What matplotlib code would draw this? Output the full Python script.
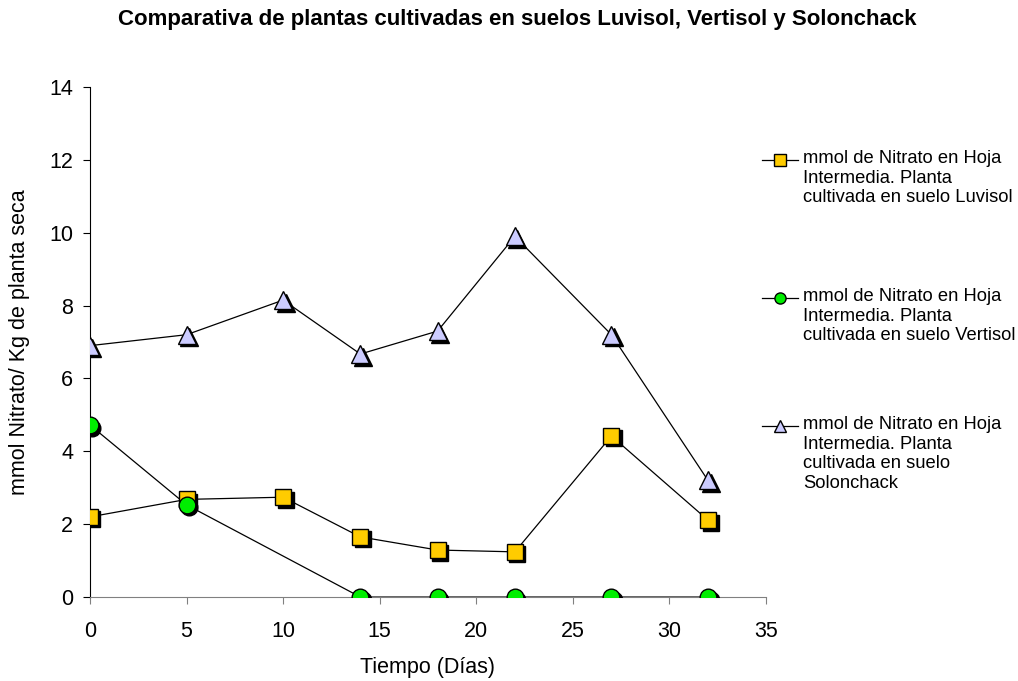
import matplotlib
matplotlib.use("Agg")
import matplotlib.pyplot as plt
from matplotlib.lines import Line2D
from matplotlib.transforms import offset_copy

plt.rcParams['font.family'] = ['Liberation Sans', 'DejaVu Sans']

dias = [0, 5, 10, 14, 18, 22, 27, 32]
luvisol = [2.2, 2.68, 2.74, 1.65, 1.29, 1.24, 4.42, 2.11]
dias_vertisol = [0, 5, 14, 18, 22, 27, 32]  # sin dato en el dia 10
vertisol = [4.72, 2.53, 0, 0, 0, 0, 0]
solonchack = [6.9, 7.2, 8.15, 6.67, 7.3, 9.9, 7.2, 3.2]

etiquetas = [
    "mmol de Nitrato en Hoja\nIntermedia. Planta\ncultivada en suelo Luvisol",
    "mmol de Nitrato en Hoja\nIntermedia. Planta\ncultivada en suelo Vertisol",
    "mmol de Nitrato en Hoja\nIntermedia. Planta\ncultivada en suelo\nSolonchack",
]

fig = plt.figure(figsize=(10.18, 6.81), dpi=100)
ax = fig.add_axes([0.0884, 0.1233, 0.664, 0.749])

# sombra negra desplazada de los marcadores (estilo Excel)
sombra = offset_copy(ax.transData, fig=fig, x=2.5, y=-2.5, units='dots')

series = [
    (dias, luvisol, 's', '#FFCC00', 11),
    (dias_vertisol, vertisol, 'o', '#00EE00', 12),
    (dias, solonchack, '^', '#CCCCFF', 13),
]
for xs, ys, m, c, ms in series:
    ax.plot(xs, ys, color='black', lw=0.9, zorder=2)
    ax.plot(xs, ys, ls='none', marker=m, ms=ms, mfc='black', mec='black', transform=sombra, zorder=3)
    ax.plot(xs, ys, ls='none', marker=m, ms=ms, mfc=c, mec='black', mew=1.0, zorder=4)

ax.set_xlim(0, 35)
ax.set_ylim(0, 14)
ax.set_xticks(range(0, 36, 5))
ax.set_yticks(range(0, 15, 2))
for s in ['top', 'right']:
    ax.spines[s].set_visible(False)
ax.spines['bottom'].set_color('#808080')
ax.spines['left'].set_color('black')
ax.tick_params(axis='both', direction='out', length=5, labelsize=15.5)
ax.tick_params(axis='x', color='#808080', pad=12)
ax.tick_params(axis='y', pad=7)
ax.set_xlabel("Tiempo (Días)", fontsize=15.5, labelpad=11)
ax.set_ylabel("mmol Nitrato/ Kg de planta seca", fontsize=15.5, labelpad=14)

fig.suptitle("Comparativa de plantas cultivadas en suelos Luvisol, Vertisol y Solonchack",
             x=0.508, y=1 - 20 / 681, fontsize=16, fontweight='bold', va='center')

# leyenda a mano: marcador alineado con la primera linea del texto
H = 681.0
y_entradas = [160, 298, 426]
for (xs, ys, m, c, ms), lab, yp in zip(series, etiquetas, y_entradas):
    yf = 1 - yp / H
    fig.add_artist(Line2D([762 / 1018, 798 / 1018], [yf, yf], color='black', lw=0.9,
                          transform=fig.transFigure))
    fig.add_artist(Line2D([780 / 1018], [yf], ls='none', marker=m, ms=8, mfc=c, mec='black',
                          mew=1.0, transform=fig.transFigure))
    fig.text(803 / 1018, 1 - (yp - 10) / H, lab, fontsize=13.2, va='top', ha='left',
             linespacing=1.2)

fig.savefig("out.png", dpi=100)
